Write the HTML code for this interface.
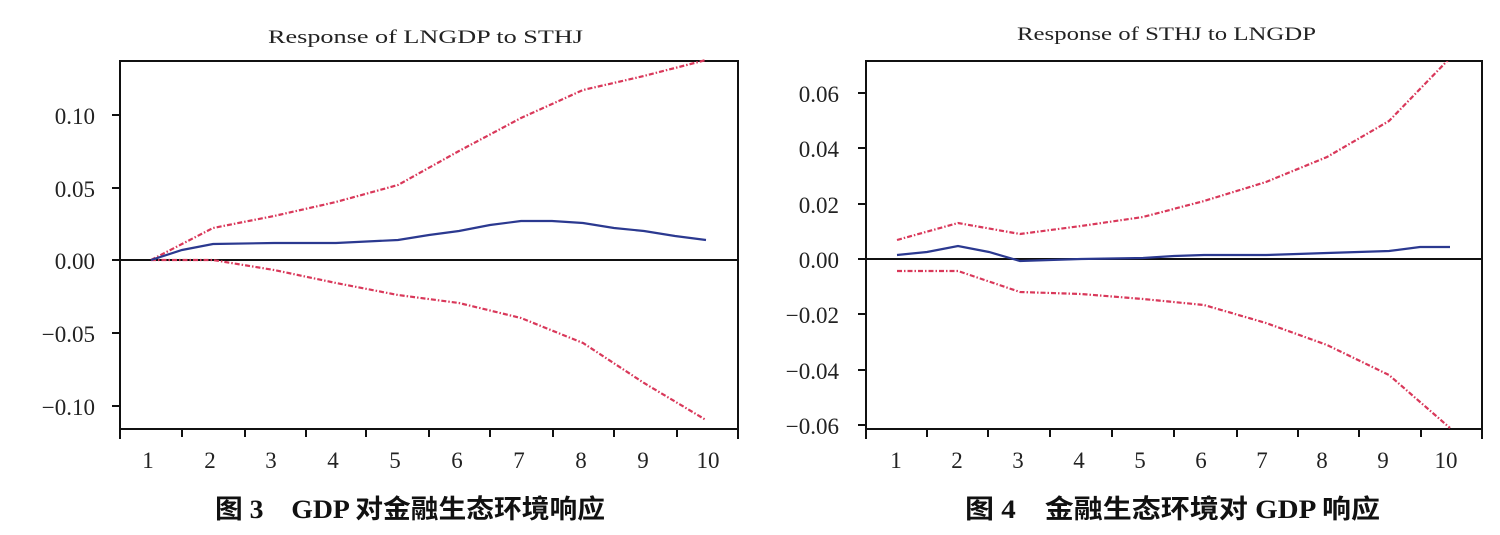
<!DOCTYPE html>
<html><head><meta charset="utf-8"><style>
html,body{margin:0;padding:0;background:#fff;}
svg{display:block}
.t{font-family:"Liberation Serif",serif;font-size:23px;fill:#222}
.ti{font-family:"Liberation Serif",serif;font-size:19px;fill:#222}
.cap{font-family:"Liberation Serif","Noto Sans CJK SC",sans-serif;font-size:26px;fill:#111;font-weight:bold}
</style></head><body>
<svg width="1500" height="535" viewBox="0 0 1500 535" xmlns="http://www.w3.org/2000/svg">
<rect width="1500" height="535" fill="#fff"/>
<!-- LEFT -->
<text class="ti" x="268" y="43" textLength="315" lengthAdjust="spacingAndGlyphs">Response of LNGDP to STHJ</text>
<rect x="120" y="61" width="618" height="368" fill="none" stroke="#111" stroke-width="2"/>
<line x1="120" y1="260" x2="738" y2="260" stroke="#111" stroke-width="2"/>
<g stroke="#111" stroke-width="2">
<line x1="112" y1="115" x2="120" y2="115"/><line x1="112" y1="188" x2="120" y2="188"/><line x1="112" y1="260" x2="120" y2="260"/><line x1="112" y1="333" x2="120" y2="333"/><line x1="112" y1="406" x2="120" y2="406"/>
<path d="M120 429v10M182 429v8M245 429v8M306 429v8M366 429v8M429 429v8M490 429v8M553 429v8M614 429v8M677 429v8M738 429v10"/>
</g>
<g class="t" text-anchor="end">
<text x="95" y="124">0.10</text><text x="95" y="197">0.05</text><text x="95" y="269">0.00</text><text x="95" y="342">−0.05</text><text x="95" y="415">−0.10</text>
</g>
<g class="t" text-anchor="middle">
<text x="148" y="468">1</text><text x="210" y="468">2</text><text x="271" y="468">3</text><text x="333" y="468">4</text><text x="395" y="468">5</text><text x="457" y="468">6</text><text x="519" y="468">7</text><text x="581" y="468">8</text><text x="643" y="468">9</text><text x="708" y="468">10</text>
</g>
<g fill="none" stroke="#d9385a" stroke-width="2.2" stroke-dasharray="5 2 1.5 2">
<polyline points="151,260 213,228 274,216 336,202 398,185 459,151 521,118 583,90 644,76 706,60"/>
<polyline points="151,260 213,260 274,270 336,283 398,295 459,303 521,318 583,343 644,383 706,420"/>
</g>
<polyline fill="none" stroke="#2b3990" stroke-width="2.2" points="151,260 182,250 213,244 274,243 336,243 398,240 429,235 459,231 490,225 521,221 552,221 583,223 614,228 644,231 675,236 706,240"/>
<text class="cap" x="215" y="518" textLength="390" lengthAdjust="spacingAndGlyphs">图 3　GDP 对金融生态环境响应</text>
<!-- RIGHT -->
<text class="ti" x="1017" y="40" textLength="299" lengthAdjust="spacingAndGlyphs">Response of STHJ to LNGDP</text>
<rect x="866" y="61" width="616" height="368" fill="none" stroke="#111" stroke-width="2"/>
<line x1="866" y1="259" x2="1482" y2="259" stroke="#111" stroke-width="2"/>
<g stroke="#111" stroke-width="2">
<line x1="858" y1="93" x2="866" y2="93"/><line x1="858" y1="148" x2="866" y2="148"/><line x1="858" y1="204" x2="866" y2="204"/><line x1="858" y1="259" x2="866" y2="259"/><line x1="858" y1="314" x2="866" y2="314"/><line x1="858" y1="370" x2="866" y2="370"/><line x1="858" y1="425" x2="866" y2="425"/>
<path d="M866 429v10M927 429v8M988 429v8M1050 429v8M1112 429v8M1174 429v8M1237 429v8M1298 429v8M1359 429v8M1421 429v8M1482 429v10"/>
</g>
<g class="t" text-anchor="end">
<text x="839" y="102">0.06</text><text x="839" y="157">0.04</text><text x="839" y="213">0.02</text><text x="839" y="268">0.00</text><text x="839" y="323">−0.02</text><text x="839" y="379">−0.04</text><text x="839" y="434">−0.06</text>
</g>
<g class="t" text-anchor="middle">
<text x="896" y="468">1</text><text x="957" y="468">2</text><text x="1018" y="468">3</text><text x="1079" y="468">4</text><text x="1140" y="468">5</text><text x="1201" y="468">6</text><text x="1262" y="468">7</text><text x="1322" y="468">8</text><text x="1383" y="468">9</text><text x="1446" y="468">10</text>
</g>
<svg x="866" y="61" width="616" height="368" viewBox="866 61 616 368" overflow="hidden">
<g fill="none" stroke="#d9385a" stroke-width="2.2" stroke-dasharray="5 2 1.5 2">
<polyline points="897,240 958,223 1020,234 1081,226 1143,217 1204,201 1266,182 1327,157 1389,121 1450,58"/>
<polyline points="897,271 958,271 1020,292 1081,294 1143,299 1204,305 1266,323 1327,345 1389,375 1450,428"/>
</g>
<polyline fill="none" stroke="#2b3990" stroke-width="2.2" points="897,255 927,252 958,246 989,252 1020,261 1050,260 1081,259 1143,258 1174,256 1204,255 1266,255 1297,254 1327,253 1358,252 1389,251 1420,247 1450,247"/>
</svg>
<text class="cap" x="965" y="518" textLength="415" lengthAdjust="spacingAndGlyphs">图 4　金融生态环境对 GDP 响应</text>
</svg>
</body></html>
